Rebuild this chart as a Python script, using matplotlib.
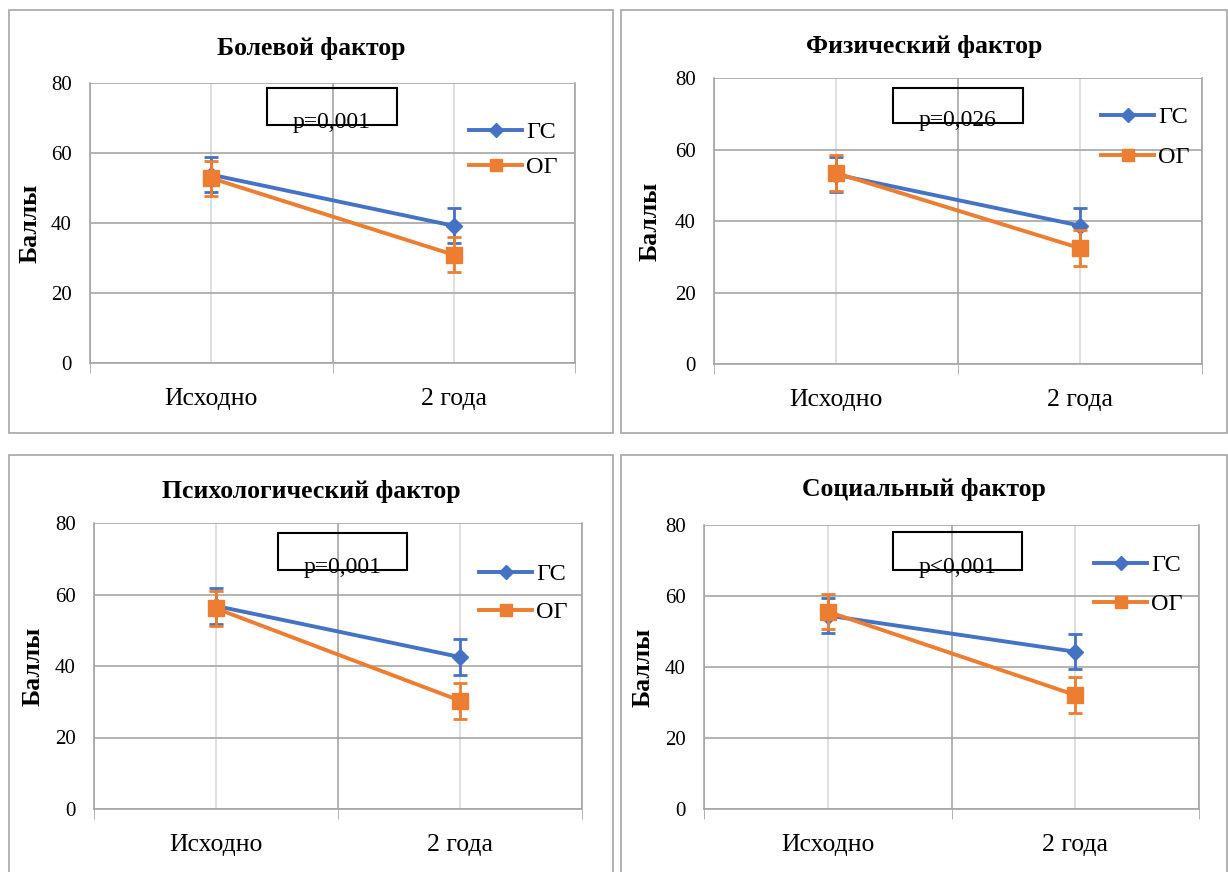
import matplotlib
matplotlib.use("Agg")
import matplotlib.pyplot as plt
from matplotlib.patches import Rectangle
from matplotlib.lines import Line2D

plt.rcParams['font.family'] = ['Liberation Serif', 'DejaVu Serif']

# data
categories = ['Исходно', '2 года']
titles = ['Болевой фактор', 'Физический фактор', 'Психологический фактор', 'Социальный фактор']
p_texts = ['p=0,001', 'p=0,026', 'p=0,001', 'p<0,001']
gs_vals = [[53.8, 39.2], [53.0, 38.7], [56.8, 42.5], [54.5, 44.3]]
og_vals = [[52.8, 30.9], [53.4, 32.4], [56.1, 30.3], [55.6, 32.1]]
gs_err = [[5, 5], [5, 5], [5, 5], [5, 5]]
og_err = [[5, 5], [5, 5], [5, 5], [5, 5]]
yticks = [0, 20, 40, 60, 80]

BLUE = '#4472C4'
ORANGE = '#ED7D31'
W, H = 1228, 872

# layout in pixels (left, top, right, bottom)
panels = [(9, 10, 613, 433), (621, 10, 1227, 433), (9, 455, 613, 900), (621, 455, 1227, 900)]
axes_px = [(90, 83, 575, 363), (714, 78, 1202, 364), (94, 523, 582, 809), (704, 525, 1199, 809)]
pboxes = [(267, 88, 397, 125), (893, 88, 1023, 123), (278, 533, 407, 570), (893, 532, 1022, 570)]
title_y = [48, 46, 491, 489]
legend_pos = [(469, 121, 35), (1101, 106, 40), (479, 563, 38), (1094, 554, 39)]
ylab_x = [30, 650, 33, 643]


def fx(x):
    return x / W


def fy(y):
    return 1 - y / H


fig = plt.figure(figsize=(W / 100, H / 100), dpi=100)

for i in range(4):
    l, t, r, b = panels[i]
    fig.patches.append(Rectangle((fx(l), fy(b)), fx(r - l), (b - t) / H, transform=fig.transFigure,
                                 fill=False, edgecolor='#A6A6A6', lw=1.2))
    pl, pr = l, r

    l, t, r, b = axes_px[i]
    ax = fig.add_axes([fx(l), fy(b), fx(r - l), (b - t) / H])
    x = range(len(categories))

    ax.errorbar(x, gs_vals[i], yerr=gs_err[i], color=BLUE, lw=2.8, marker='D', ms=8.5,
                elinewidth=2, capsize=5, capthick=2, zorder=3)
    ax.errorbar(x, og_vals[i], yerr=og_err[i], color=ORANGE, lw=2.8, marker='s', ms=12,
                elinewidth=2, capsize=5, capthick=2, zorder=4)

    ax.set_xlim(-0.5, 1.5)
    ax.set_ylim(0, 80)
    ax.set_yticks(yticks)
    ax.set_xticks([0, 1])
    ax.set_xticklabels(categories, fontsize=18.5)
    ax.set_xticks([-0.5, 0.5, 1.5], minor=True)
    ax.tick_params(axis='x', which='major', length=0, pad=18)
    ax.tick_params(axis='x', which='minor', length=7, color='#A6A6A6', direction='out')
    ax.tick_params(axis='y', length=0, labelsize=15, pad=13)
    ax.grid(axis='y', color='#A6A6A6', lw=1.2)
    ax.grid(axis='x', which='major', color='#D9D9D9', lw=1.2)
    ax.grid(axis='x', which='minor', color='#A6A6A6', lw=1.2)
    ax.set_axisbelow(True)
    ax.spines['top'].set_visible(False)
    for s in ['bottom', 'left', 'right']:
        ax.spines[s].set_color('#A6A6A6')
        ax.spines[s].set_linewidth(1.2)

    fig.text(fx(ylab_x[i]), fy((t + b) / 2), 'Баллы', rotation=90, fontsize=18.5, fontweight='bold',
             ha='center', va='center')
    fig.text(fx((pl + pr) / 2), fy(title_y[i]), titles[i], fontsize=18.5, fontweight='bold',
             ha='center', va='center')

    bl, bt, br, bb = pboxes[i]
    fig.patches.append(Rectangle((fx(bl), fy(bb)), fx(br - bl), (bb - bt) / H, transform=fig.transFigure,
                                 fill=False, edgecolor='black', lw=1.5, zorder=5))
    fig.text(fx((bl + br) / 2), fy(bb + 3), p_texts[i], fontsize=17, ha='center', va='baseline')

    handles = [Line2D([], [], color=BLUE, lw=2.8, marker='D', ms=7),
               Line2D([], [], color=ORANGE, lw=2.8, marker='s', ms=9)]
    lx, ly, sp = legend_pos[i]
    ax.legend(handles, ['ГС', 'ОГ'], loc='upper left', bbox_to_anchor=(fx(lx), fy(ly)),
              bbox_transform=fig.transFigure, frameon=False, fontsize=17.5, handlelength=2.2,
              handletextpad=0.15, labelspacing=(sp - 22) / 24.3, borderaxespad=0, borderpad=0)

fig.savefig('out.png', dpi=100)
